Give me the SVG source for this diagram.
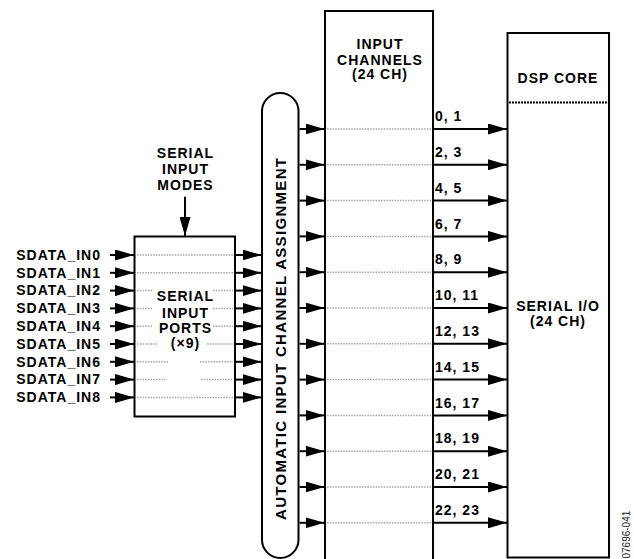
<svg xmlns="http://www.w3.org/2000/svg" width="634" height="559" viewBox="0 0 634 559">
<style>
.t{font-family:"Liberation Sans",Arial,Helvetica,sans-serif;font-weight:bold;font-size:14px;letter-spacing:1px;fill:#000}
.c{text-anchor:middle}
.e{text-anchor:end}
.box{fill:#fff;stroke:#000;stroke-width:2}
.a{stroke:#000;stroke-width:2;fill:none;marker-end:url(#ah)}
.d{stroke:#a6a6a6;stroke-width:1.5;stroke-dasharray:1.5 1.2;fill:none}
.dk{stroke:#000;stroke-width:2;stroke-dasharray:2 1;fill:none}
</style>
<defs>
<marker id="ah" markerWidth="19" markerHeight="11" refX="19" refY="5.5" orient="auto" markerUnits="userSpaceOnUse" viewBox="0 0 19 11"><path d="M0,0 L19,5.5 L0,11 z" fill="#000"/></marker>
</defs>
<rect width="634" height="559" fill="#fff"/>

<g id="serial-input-modes">
<text class="t c" x="185.5" y="158.3">SERIAL</text>
<text class="t c" x="185.5" y="174">INPUT</text>
<text class="t c" x="185.5" y="190">MODES</text>
</g>

<g id="sdata-labels">
<text class="t e" x="101" y="259.8">SDATA_IN0</text>
<text class="t e" x="101" y="277.6">SDATA_IN1</text>
<text class="t e" x="101" y="295.4">SDATA_IN2</text>
<text class="t e" x="101" y="313.2">SDATA_IN3</text>
<text class="t e" x="101" y="331">SDATA_IN4</text>
<text class="t e" x="101" y="348.8">SDATA_IN5</text>
<text class="t e" x="101" y="366.6">SDATA_IN6</text>
<text class="t e" x="101" y="384.4">SDATA_IN7</text>
<text class="t e" x="101" y="402.2">SDATA_IN8</text>
</g>

<g id="serial-input-ports">
<rect class="box" x="134.5" y="236.5" width="100.5" height="180"/>
<path class="d" d="M137,255H233M137,272.8H233M137,290.6H152M213,290.6H233M137,308.4H153M213,308.4H233M137,326.2H153M213,326.2H233M137,344H157M207,344H233M137,361.8H168M200,361.8H233M137,379.6H167M201,379.6H233M137,397.4H233"/>
<text class="t c" x="185.5" y="300.7">SERIAL</text>
<text class="t c" x="185.5" y="317.5">INPUT</text>
<text class="t c" x="185.5" y="333.3">PORTS</text>
<text class="t c" x="185.5" y="347.8">(×9)</text>
</g>

<g id="automatic-input-channel-assignment">
<rect class="box" x="262" y="93" width="36.5" height="465" rx="18.25" ry="18.25"/>
<text class="t c" style="font-size:15px;letter-spacing:0" transform="translate(286,339) rotate(-90)" textLength="362" lengthAdjust="spacing">AUTOMATIC INPUT CHANNEL ASSIGNMENT</text>
</g>

<g id="input-channels">
<rect class="box" x="325" y="11" width="108" height="552"/>
<path class="d" d="M327,129H431M327,164.8H431M327,200.6H431M327,236.4H431M327,272.2H431M327,308H431M327,343.8H431M327,379.6H431M327,415.4H431M327,451.2H431M327,487H431M327,522.8H431"/>
<text class="t c" x="380" y="49.3">INPUT</text>
<text class="t c" x="380" y="64.8">CHANNELS</text>
<text class="t c" x="380" y="79.2">(24 CH)</text>
</g>

<g id="dsp-core">
<rect class="box" x="507.5" y="33" width="101.5" height="524.5"/>
<path class="dk" d="M509,102.5H608"/>
<text class="t c" x="558" y="82.7">DSP CORE</text>
<text class="t c" x="558" y="311">SERIAL I/O</text>
<text class="t c" x="558" y="325.5">(24 CH)</text>
</g>

<g id="connectors">
<path class="a" d="M185,196.7V236"/>
<path class="a" d="M110,255H134"/>
<path class="a" d="M110,272.8H134"/>
<path class="a" d="M110,290.6H134"/>
<path class="a" d="M110,308.4H134"/>
<path class="a" d="M110,326.2H134"/>
<path class="a" d="M110,344H134"/>
<path class="a" d="M110,361.8H134"/>
<path class="a" d="M110,379.6H134"/>
<path class="a" d="M110,397.4H134"/>
<path class="a" d="M236,255H261.5"/>
<path class="a" d="M236,272.8H261.5"/>
<path class="a" d="M236,290.6H261.5"/>
<path class="a" d="M236,308.4H261.5"/>
<path class="a" d="M236,326.2H261.5"/>
<path class="a" d="M236,344H261.5"/>
<path class="a" d="M236,361.8H261.5"/>
<path class="a" d="M236,379.6H261.5"/>
<path class="a" d="M236,397.4H261.5"/>
<path class="a" d="M299.5,129H324.5"/>
<path class="a" d="M299.5,164.8H324.5"/>
<path class="a" d="M299.5,200.6H324.5"/>
<path class="a" d="M299.5,236.4H324.5"/>
<path class="a" d="M299.5,272.2H324.5"/>
<path class="a" d="M299.5,308H324.5"/>
<path class="a" d="M299.5,343.8H324.5"/>
<path class="a" d="M299.5,379.6H324.5"/>
<path class="a" d="M299.5,415.4H324.5"/>
<path class="a" d="M299.5,451.2H324.5"/>
<path class="a" d="M299.5,487H324.5"/>
<path class="a" d="M299.5,522.8H324.5"/>
<path class="a" d="M434,129H507"/>
<path class="a" d="M434,164.8H507"/>
<path class="a" d="M434,200.6H507"/>
<path class="a" d="M434,236.4H507"/>
<path class="a" d="M434,272.2H507"/>
<path class="a" d="M434,308H507"/>
<path class="a" d="M434,343.8H507"/>
<path class="a" d="M434,379.6H507"/>
<path class="a" d="M434,415.4H507"/>
<path class="a" d="M434,451.2H507"/>
<path class="a" d="M434,487H507"/>
<path class="a" d="M434,522.8H507"/>
</g>

<g id="channel-labels">
<text class="t" x="435" y="121.2">0, 1</text>
<text class="t" x="435" y="157">2, 3</text>
<text class="t" x="435" y="192.8">4, 5</text>
<text class="t" x="435" y="228.6">6, 7</text>
<text class="t" x="435" y="264.4">8, 9</text>
<text class="t" x="435" y="300.2">10, 11</text>
<text class="t" x="435" y="336">12, 13</text>
<text class="t" x="435" y="371.8">14, 15</text>
<text class="t" x="435" y="407.6">16, 17</text>
<text class="t" x="435" y="443.4">18, 19</text>
<text class="t" x="435" y="479.2">20, 21</text>
<text class="t" x="435" y="515">22, 23</text>
</g>

<text x="0" y="0" transform="translate(629.5,510.7) rotate(-90)" text-anchor="end" style="font-family:'Liberation Sans',Arial,sans-serif;font-size:10px;fill:#222">07696-041</text>
</svg>
